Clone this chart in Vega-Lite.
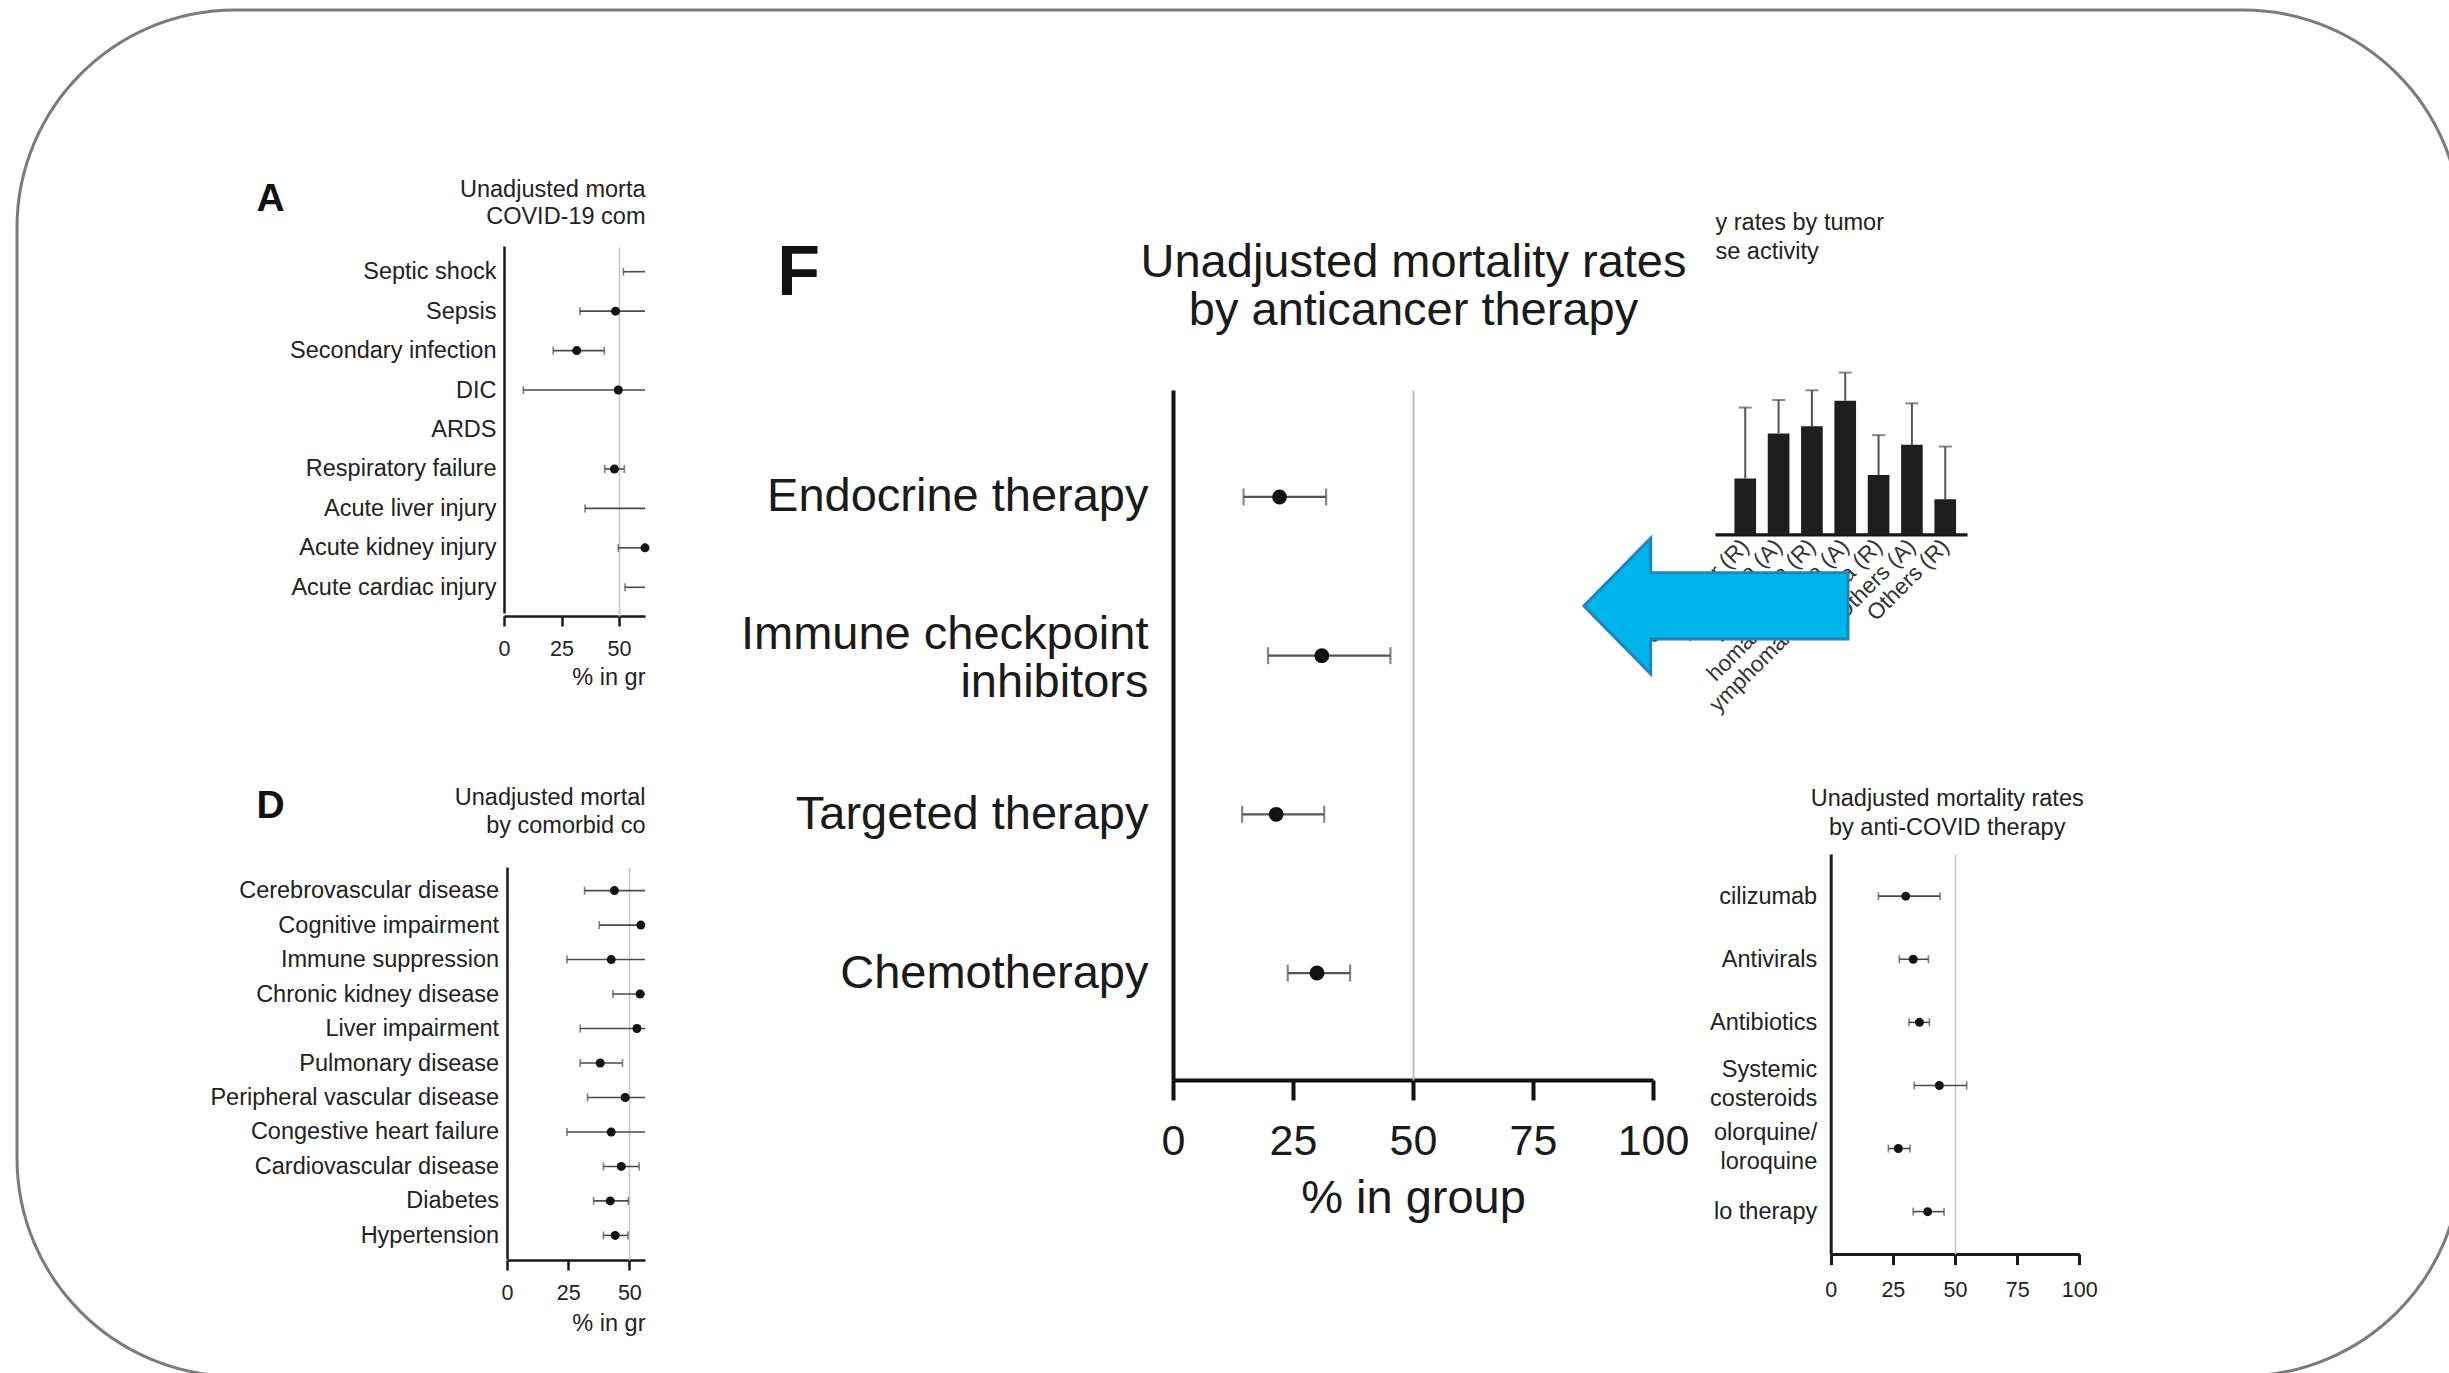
{
  "$schema": "https://vega.github.io/schema/vega-lite/v6.json",
  "width": 2444,
  "height": 1366,
  "padding": {"left": 17, "top": 10, "right": 0, "bottom": 0},
  "autosize": {"type": "none"},
  "background": "white",
  "config": {
    "font": "Liberation Sans",
    "view": {"fill": "white", "stroke": "#7b7b7b", "strokeWidth": 3, "cornerRadius": 218}
  },
  "datasets": {
    "complications": [
      {"complication": "Septic shock", "rate": 68.0, "lo": 51.9, "hi": 84.0},
      {"complication": "Sepsis", "rate": 48.5, "lo": 33.0, "hi": 64.0},
      {"complication": "Secondary infection", "rate": 31.6, "lo": 21.4, "hi": 43.6},
      {"complication": "DIC", "rate": 49.7, "lo": 8.4, "hi": 91.0},
      {"complication": "ARDS", "rate": 72.0, "lo": 63.0, "hi": 81.0},
      {"complication": "Respiratory failure", "rate": 48.0, "lo": 43.8, "hi": 52.3},
      {"complication": "Acute liver injury", "rate": 64.0, "lo": 35.2, "hi": 90.0},
      {"complication": "Acute kidney injury", "rate": 61.8, "lo": 49.7, "hi": 74.0},
      {"complication": "Acute cardiac injury", "rate": 66.0, "lo": 52.6, "hi": 80.0}
    ],
    "comorbidities": [
      {"condition": "Cerebrovascular disease", "rate": 43.9, "lo": 31.7, "hi": 58.5},
      {"condition": "Cognitive impairment", "rate": 54.7, "lo": 37.7, "hi": 72.0},
      {"condition": "Immune suppression", "rate": 42.6, "lo": 24.5, "hi": 62.0},
      {"condition": "Chronic kidney disease", "rate": 54.4, "lo": 43.3, "hi": 66.0},
      {"condition": "Liver impairment", "rate": 53.1, "lo": 29.9, "hi": 76.0},
      {"condition": "Pulmonary disease", "rate": 38.1, "lo": 29.9, "hi": 47.2},
      {"condition": "Peripheral vascular disease", "rate": 48.3, "lo": 32.9, "hi": 64.0},
      {"condition": "Congestive heart failure", "rate": 42.6, "lo": 24.5, "hi": 61.0},
      {"condition": "Cardiovascular disease", "rate": 46.7, "lo": 39.4, "hi": 54.0},
      {"condition": "Diabetes", "rate": 42.2, "lo": 35.4, "hi": 49.6},
      {"condition": "Hypertension", "rate": 44.2, "lo": 39.4, "hi": 49.4}
    ],
    "anticancer": [
      {"therapy": "Endocrine therapy", "rate": 22.2, "lo": 14.7, "hi": 31.9},
      {"therapy": "Immune checkpoint|inhibitors", "rate": 31.0, "lo": 19.8, "hi": 45.3},
      {"therapy": "Targeted therapy", "rate": 21.5, "lo": 14.4, "hi": 31.5},
      {"therapy": "Chemotherapy", "rate": 30.0, "lo": 23.9, "hi": 36.9}
    ],
    "anticovid": [
      {"treatment": "cilizumab", "rate": 30.2, "lo": 19.2, "hi": 44.0},
      {"treatment": "Antivirals", "rate": 33.2, "lo": 27.6, "hi": 39.3},
      {"treatment": "Antibiotics", "rate": 35.7, "lo": 31.5, "hi": 39.7},
      {"treatment": "Systemic|costeroids", "rate": 43.7, "lo": 33.6, "hi": 54.7},
      {"treatment": "olorquine/|loroquine", "rate": 27.2, "lo": 23.2, "hi": 31.9},
      {"treatment": "lo therapy", "rate": 39.0, "lo": 33.2, "hi": 45.6}
    ],
    "tumor": [
      {"group": "Solid tumor (R)", "rate": 31.8, "hi": 72.2},
      {"group": "Leukemia (A)", "rate": 57.4, "hi": 76.5},
      {"group": "Leukemia (R)", "rate": 61.6, "hi": 82.0},
      {"group": "Lymphoma/myeloma (A)", "rate": 76.1, "hi": 92.1},
      {"group": "Lymphoma/myeloma (R)", "rate": 33.8, "hi": 56.5},
      {"group": "Others (A)", "rate": 51.0, "hi": 74.6},
      {"group": "Others (R)", "rate": 20.0, "hi": 50.0}
    ]
  },
  "layer": [
    {
      "data": {"name": "complications"},
      "layer": [
        {
          "mark": {"type": "rule", "color": "#4a4a4a", "strokeWidth": 1.6},
          "encoding": {
            "y": {"field": "complication", "type": "nominal",
              "scale": {"type": "point", "domain": ["Septic shock", "Sepsis", "Secondary infection", "DIC", "ARDS", "Respiratory failure", "Acute liver injury", "Acute kidney injury", "Acute cardiac injury"], "range": [236, 603], "padding": 0.652},
              "axis": {"orient": "left", "offset": -487, "ticks": false, "tickSize": 0, "domainColor": "#1a1a1a", "domainWidth": 2.5, "labelFontSize": 23.5, "labelColor": "#222222", "labelPadding": 8, "labelLimit": 1000,
                "title": "A", "titleAngle": 0, "titleX": -234, "titleY": 188, "titleAlign": "center", "titleBaseline": "middle", "titleFontSize": 39, "titleFontWeight": "bold", "titleColor": "#111111", "zindex": 0}},
            "x": {"field": "lo", "type": "quantitative",
              "scale": {"domain": [0, 61.3], "range": [487, 628], "clamp": true, "nice": false, "zero": false},
              "axis": {"orient": "bottom", "offset": -760, "values": [0, 25, 50], "tickSize": 10, "tickWidth": 2.5, "tickColor": "#1a1a1a", "domainColor": "#1a1a1a", "domainWidth": 2.5, "labelFontSize": 21.5, "labelColor": "#222222", "labelPadding": 12, "labelFlush": false, "labelOverlap": false, "grid": false,
                "title": "% in gr", "titleAnchor": "end", "titleAlign": "right", "titleY": 61, "titleBaseline": "middle", "titleFontSize": 23.5, "titleFontWeight": "normal", "titleColor": "#222222", "zindex": 0}},
            "x2": {"field": "hi"}
          }
        },
        {
          "transform": [{"filter": "datum.lo <= 61.3"}],
          "mark": {"type": "tick", "color": "#4a4a4a", "thickness": 1.6, "size": 8},
          "encoding": {
            "y": {"field": "complication", "type": "nominal", "scale": {"type": "point", "domain": ["Septic shock", "Sepsis", "Secondary infection", "DIC", "ARDS", "Respiratory failure", "Acute liver injury", "Acute kidney injury", "Acute cardiac injury"], "range": [236, 603], "padding": 0.652}, "axis": null},
            "x": {"field": "lo", "type": "quantitative", "scale": {"domain": [0, 61.3], "range": [487, 628], "clamp": true, "nice": false, "zero": false},
              "axis": {"orient": "top", "offset": -606, "values": [50], "domain": false, "labels": false, "ticks": true, "tickSize": 369, "tickWidth": 1.6, "tickColor": "#c9c9c9", "grid": false,
                "title": ["Unadjusted morta", "COVID-19 com"], "titleAnchor": "end", "titleAlign": "right", "titleY": -426.7, "titleBaseline": "middle", "titleLineHeight": 27.5, "titleFontSize": 23.5, "titleFontWeight": "normal", "titleColor": "#222222", "zindex": 0}}
          }
        },
        {
          "transform": [{"filter": "datum.hi <= 61.3"}],
          "mark": {"type": "tick", "color": "#4a4a4a", "thickness": 1.6, "size": 8},
          "encoding": {
            "y": {"field": "complication", "type": "nominal", "scale": {"type": "point", "domain": ["Septic shock", "Sepsis", "Secondary infection", "DIC", "ARDS", "Respiratory failure", "Acute liver injury", "Acute kidney injury", "Acute cardiac injury"], "range": [236, 603], "padding": 0.652}, "axis": null},
            "x": {"field": "hi", "type": "quantitative", "scale": {"domain": [0, 61.3], "range": [487, 628], "clamp": true, "nice": false, "zero": false}, "axis": null}
          }
        },
        {
          "transform": [{"filter": "datum.rate <= 62.2"}],
          "mark": {"type": "circle", "color": "#141414", "opacity": 1, "size": 81},
          "encoding": {
            "y": {"field": "complication", "type": "nominal", "scale": {"type": "point", "domain": ["Septic shock", "Sepsis", "Secondary infection", "DIC", "ARDS", "Respiratory failure", "Acute liver injury", "Acute kidney injury", "Acute cardiac injury"], "range": [236, 603], "padding": 0.652}, "axis": null},
            "x": {"field": "rate", "type": "quantitative", "scale": {"domain": [0, 61.3], "range": [487, 628], "clamp": true, "nice": false, "zero": false}, "axis": null}
          }
        }
      ],
      "resolve": {"axis": {"x": "independent", "y": "independent"}}
    },
    {
      "data": {"name": "comorbidities"},
      "layer": [
        {
          "mark": {"type": "rule", "color": "#4a4a4a", "strokeWidth": 1.6},
          "encoding": {
            "y": {"field": "condition", "type": "nominal",
              "scale": {"type": "point", "domain": ["Cerebrovascular disease", "Cognitive impairment", "Immune suppression", "Chronic kidney disease", "Liver impairment", "Pulmonary disease", "Peripheral vascular disease", "Congestive heart failure", "Cardiovascular disease", "Diabetes", "Hypertension"], "range": [857, 1249], "padding": 0.685},
              "axis": {"orient": "left", "offset": -490, "ticks": false, "tickSize": 0, "domainColor": "#1a1a1a", "domainWidth": 2.5, "labelFontSize": 23.5, "labelColor": "#222222", "labelPadding": 8.4, "labelLimit": 1000,
                "title": "D", "titleAngle": 0, "titleX": -237, "titleY": 795, "titleAlign": "center", "titleBaseline": "middle", "titleFontSize": 39, "titleFontWeight": "bold", "titleColor": "#111111", "zindex": 0}},
            "x": {"field": "lo", "type": "quantitative",
              "scale": {"domain": [0, 56.4], "range": [490, 628], "clamp": true, "nice": false, "zero": false},
              "axis": {"orient": "bottom", "offset": -116, "values": [0, 25, 50], "tickSize": 10, "tickWidth": 2.5, "tickColor": "#1a1a1a", "domainColor": "#1a1a1a", "domainWidth": 2.5, "labelFontSize": 21.5, "labelColor": "#222222", "labelPadding": 12, "labelFlush": false, "labelOverlap": false, "grid": false,
                "title": "% in gr", "titleAnchor": "end", "titleAlign": "right", "titleY": 63, "titleBaseline": "middle", "titleFontSize": 23.5, "titleFontWeight": "normal", "titleColor": "#222222", "zindex": 0}},
            "x2": {"field": "hi"}
          }
        },
        {
          "transform": [{"filter": "datum.lo <= 56.4"}],
          "mark": {"type": "tick", "color": "#4a4a4a", "thickness": 1.6, "size": 8},
          "encoding": {
            "y": {"field": "condition", "type": "nominal", "scale": {"type": "point", "domain": ["Cerebrovascular disease", "Cognitive impairment", "Immune suppression", "Chronic kidney disease", "Liver impairment", "Pulmonary disease", "Peripheral vascular disease", "Congestive heart failure", "Cardiovascular disease", "Diabetes", "Hypertension"], "range": [857, 1249], "padding": 0.685}, "axis": null},
            "x": {"field": "lo", "type": "quantitative", "scale": {"domain": [0, 56.4], "range": [490, 628], "clamp": true, "nice": false, "zero": false},
              "axis": {"orient": "top", "offset": -1250, "values": [50], "domain": false, "labels": false, "ticks": true, "tickSize": 393, "tickWidth": 1.6, "tickColor": "#c9c9c9", "grid": false,
                "title": ["Unadjusted mortal", "by comorbid co"], "titleAnchor": "end", "titleAlign": "right", "titleY": -462.3, "titleBaseline": "middle", "titleLineHeight": 27.8, "titleFontSize": 23.5, "titleFontWeight": "normal", "titleColor": "#222222", "zindex": 0}}
          }
        },
        {
          "transform": [{"filter": "datum.hi <= 56.4"}],
          "mark": {"type": "tick", "color": "#4a4a4a", "thickness": 1.6, "size": 8},
          "encoding": {
            "y": {"field": "condition", "type": "nominal", "scale": {"type": "point", "domain": ["Cerebrovascular disease", "Cognitive impairment", "Immune suppression", "Chronic kidney disease", "Liver impairment", "Pulmonary disease", "Peripheral vascular disease", "Congestive heart failure", "Cardiovascular disease", "Diabetes", "Hypertension"], "range": [857, 1249], "padding": 0.685}, "axis": null},
            "x": {"field": "hi", "type": "quantitative", "scale": {"domain": [0, 56.4], "range": [490, 628], "clamp": true, "nice": false, "zero": false}, "axis": null}
          }
        },
        {
          "transform": [{"filter": "datum.rate <= 56.4"}],
          "mark": {"type": "circle", "color": "#141414", "opacity": 1, "size": 81},
          "encoding": {
            "y": {"field": "condition", "type": "nominal", "scale": {"type": "point", "domain": ["Cerebrovascular disease", "Cognitive impairment", "Immune suppression", "Chronic kidney disease", "Liver impairment", "Pulmonary disease", "Peripheral vascular disease", "Congestive heart failure", "Cardiovascular disease", "Diabetes", "Hypertension"], "range": [857, 1249], "padding": 0.685}, "axis": null},
            "x": {"field": "rate", "type": "quantitative", "scale": {"domain": [0, 56.4], "range": [490, 628], "clamp": true, "nice": false, "zero": false}, "axis": null}
          }
        }
      ],
      "resolve": {"axis": {"x": "independent", "y": "independent"}}
    },
    {
      "data": {"name": "tumor"},
      "layer": [
        {
          "mark": {"type": "bar", "color": "#1e1e1e"},
          "encoding": {
            "x": {"field": "group", "type": "nominal", "sort": null,
              "scale": {"type": "band", "domain": ["Solid tumor (R)", "Leukemia (A)", "Leukemia (R)", "Lymphoma/myeloma (A)", "Lymphoma/myeloma (R)", "Others (A)", "Others (R)"], "range": [1698, 1950], "paddingInner": 0.35, "paddingOuter": 0.455, "align": 0.64},
              "axis": {"orient": "bottom", "offset": -841.6, "ticks": false, "tickSize": 0, "domainColor": "#151515", "domainWidth": 3.3, "labelAngle": -45, "labelAlign": "right", "labelBaseline": "middle", "labelFontSize": 22.5, "labelColor": "#333333", "labelPadding": 8, "labelLimit": 1000, "labelOverlap": false,
                "labelExpr": "datum.label === 'Lymphoma/myeloma (A)' ? 'homa/myeloma (A)' : datum.label === 'Lymphoma/myeloma (R)' ? 'ymphoma/myeloma (R)' : datum.label",
                "title": null, "zindex": 0}},
            "y": {"field": "rate", "type": "quantitative", "scale": {"domain": [0, 100], "range": [524.4, 348.7], "nice": false, "zero": true}, "axis": null}
          }
        },
        {
          "mark": {"type": "rule", "color": "#555555", "strokeWidth": 2},
          "encoding": {
            "x": {"field": "group", "type": "nominal", "sort": null, "scale": {"type": "band", "domain": ["Solid tumor (R)", "Leukemia (A)", "Leukemia (R)", "Lymphoma/myeloma (A)", "Lymphoma/myeloma (R)", "Others (A)", "Others (R)"], "range": [1698, 1950], "paddingInner": 0.35, "paddingOuter": 0.455, "align": 0.64}, "axis": null},
            "y": {"field": "rate", "type": "quantitative", "scale": {"domain": [0, 100], "range": [524.4, 348.7], "nice": false, "zero": true}, "axis": null},
            "y2": {"field": "hi"}
          }
        },
        {
          "mark": {"type": "tick", "color": "#555555", "thickness": 2, "size": 13},
          "encoding": {
            "x": {"field": "group", "type": "nominal", "sort": null, "scale": {"type": "band", "domain": ["Solid tumor (R)", "Leukemia (A)", "Leukemia (R)", "Lymphoma/myeloma (A)", "Lymphoma/myeloma (R)", "Others (A)", "Others (R)"], "range": [1698, 1950], "paddingInner": 0.35, "paddingOuter": 0.455, "align": 0.64},
              "axis": {"orient": "top", "offset": -348.7, "ticks": false, "labels": false, "domain": false, "grid": false,
                "title": ["y rates by tumor", "se activity"], "titleAnchor": "start", "titleAlign": "left", "titleY": -136, "titleBaseline": "middle", "titleLineHeight": 28.6, "titleFontSize": 23.5, "titleFontWeight": "normal", "titleColor": "#222222", "zindex": 0}},
            "y": {"field": "hi", "type": "quantitative", "scale": {"domain": [0, 100], "range": [524.4, 348.7], "nice": false, "zero": true}, "axis": null}
          }
        },
        {
          "data": {"values": [{"annotation": "arrow"}]},
          "mark": {"type": "point", "shape": "M-1,0L-0.495,-0.513L-0.495,-0.252L1,-0.252L1,0.25L-0.495,0.25L-0.495,0.515Z", "size": 69696, "filled": true, "fill": "#00b4ec", "stroke": "#1d87bd", "strokeWidth": 3, "opacity": 1},
          "encoding": {
            "x": {"datum": "Solid tumor (R)", "bandPosition": -0.849, "scale": {"type": "band", "domain": ["Solid tumor (R)", "Leukemia (A)", "Leukemia (R)", "Lymphoma/myeloma (A)", "Lymphoma/myeloma (R)", "Others (A)", "Others (R)"], "range": [1698, 1950], "paddingInner": 0.35, "paddingOuter": 0.455, "align": 0.64}, "axis": null},
            "y": {"datum": -40.7, "type": "quantitative", "scale": {"domain": [0, 100], "range": [524.4, 348.7], "nice": false, "zero": true}, "axis": null}
          }
        }
      ],
      "resolve": {"axis": {"x": "independent", "y": "independent"}}
    },
    {
      "data": {"name": "anticovid"},
      "layer": [
        {
          "mark": {"type": "rule", "color": "#4a4a4a", "strokeWidth": 1.6},
          "encoding": {
            "y": {"field": "treatment", "type": "nominal",
              "scale": {"type": "point", "domain": ["cilizumab", "Antivirals", "Antibiotics", "Systemic|costeroids", "olorquine/|loroquine", "lo therapy"], "range": [843.9, 1243.9], "padding": 0.67},
              "axis": {"orient": "left", "offset": -1813.7, "ticks": false, "tickSize": 0, "domainColor": "#1a1a1a", "domainWidth": 3, "labelFontSize": 23.5, "labelColor": "#222222", "labelPadding": 14, "labelLimit": 1000, "labelExpr": "split(datum.label, '|')", "labelLineHeight": 28.6,
                "labelOffset": {"condition": {"test": "indexof(datum.value, '|') >= 0", "value": -16}, "value": 0},
                "title": null, "zindex": 0}},
            "x": {"field": "lo", "type": "quantitative",
              "scale": {"domain": [0, 100], "range": [1813.7, 2062.3], "nice": false, "zero": false},
              "axis": {"orient": "bottom", "offset": -122.1, "values": [0, 25, 50, 75, 100], "tickSize": 10.7, "tickWidth": 3, "tickColor": "#1a1a1a", "domainColor": "#1a1a1a", "domainWidth": 3, "labelFontSize": 21.5, "labelColor": "#222222", "labelPadding": 15, "labelFlush": false, "labelOverlap": false, "grid": false, "title": null, "zindex": 0}},
            "x2": {"field": "hi"}
          }
        },
        {
          "mark": {"type": "tick", "color": "#4a4a4a", "thickness": 1.6, "size": 8},
          "encoding": {
            "y": {"field": "treatment", "type": "nominal", "scale": {"type": "point", "domain": ["cilizumab", "Antivirals", "Antibiotics", "Systemic|costeroids", "olorquine/|loroquine", "lo therapy"], "range": [843.9, 1243.9], "padding": 0.67}, "axis": null},
            "x": {"field": "lo", "type": "quantitative", "scale": {"domain": [0, 100], "range": [1813.7, 2062.3], "nice": false, "zero": false},
              "axis": {"orient": "top", "offset": -1243.9, "values": [50], "domain": false, "labels": false, "ticks": true, "tickSize": 400, "tickWidth": 1.6, "tickColor": "#c9c9c9", "grid": false,
                "title": ["Unadjusted mortality rates", "by anti-COVID therapy"], "titleX": 1929.7, "titleAlign": "center", "titleY": -455.3, "titleBaseline": "middle", "titleLineHeight": 28.5, "titleFontSize": 23.5, "titleFontWeight": "normal", "titleColor": "#222222", "zindex": 0}}
          }
        },
        {
          "mark": {"type": "tick", "color": "#4a4a4a", "thickness": 1.6, "size": 8},
          "encoding": {
            "y": {"field": "treatment", "type": "nominal", "scale": {"type": "point", "domain": ["cilizumab", "Antivirals", "Antibiotics", "Systemic|costeroids", "olorquine/|loroquine", "lo therapy"], "range": [843.9, 1243.9], "padding": 0.67}, "axis": null},
            "x": {"field": "hi", "type": "quantitative", "scale": {"domain": [0, 100], "range": [1813.7, 2062.3], "nice": false, "zero": false}, "axis": null}
          }
        },
        {
          "mark": {"type": "circle", "color": "#141414", "opacity": 1, "size": 81},
          "encoding": {
            "y": {"field": "treatment", "type": "nominal", "scale": {"type": "point", "domain": ["cilizumab", "Antivirals", "Antibiotics", "Systemic|costeroids", "olorquine/|loroquine", "lo therapy"], "range": [843.9, 1243.9], "padding": 0.67}, "axis": null},
            "x": {"field": "rate", "type": "quantitative", "scale": {"domain": [0, 100], "range": [1813.7, 2062.3], "nice": false, "zero": false}, "axis": null}
          }
        }
      ],
      "resolve": {"axis": {"x": "independent", "y": "independent"}}
    },
    {
      "data": {"name": "anticancer"},
      "layer": [
        {
          "mark": {"type": "rule", "color": "#555555", "strokeWidth": 2.2},
          "encoding": {
            "y": {"field": "therapy", "type": "nominal",
              "scale": {"type": "point", "domain": ["Endocrine therapy", "Immune checkpoint|inhibitors", "Targeted therapy", "Chemotherapy"], "range": [380, 1070], "padding": 0.674},
              "axis": {"orient": "left", "offset": -1156, "ticks": false, "tickSize": 0, "domainColor": "#111111", "domainWidth": 4, "labelFontSize": 47, "labelColor": "#1a1a1a", "labelPadding": 25, "labelLimit": 2000, "labelExpr": "split(datum.label, '|')", "labelLineHeight": 48,
                "labelOffset": {"condition": {"test": "indexof(datum.value, '|') >= 0", "value": -21}, "value": 0},
                "title": "F", "titleAngle": 0, "titleX": -375, "titleY": 263, "titleAlign": "center", "titleBaseline": "middle", "titleFontSize": 70, "titleFontWeight": "bold", "titleColor": "#111111", "zindex": 0}},
            "x": {"field": "lo", "type": "quantitative",
              "scale": {"domain": [0, 100], "range": [1156, 1636], "nice": false, "zero": false},
              "axis": {"orient": "bottom", "offset": -296, "values": [0, 25, 50, 75, 100], "tickSize": 20, "tickWidth": 4, "tickColor": "#111111", "domainColor": "#111111", "domainWidth": 4, "labelFontSize": 43, "labelColor": "#1a1a1a", "labelPadding": 20, "labelFlush": false, "labelOverlap": false, "grid": false,
                "title": "% in group", "titleY": 118.3, "titleBaseline": "middle", "titleFontSize": 47, "titleFontWeight": "normal", "titleColor": "#1a1a1a", "zindex": 0}},
            "x2": {"field": "hi"}
          }
        },
        {
          "mark": {"type": "tick", "color": "#555555", "thickness": 2.2, "size": 17},
          "encoding": {
            "y": {"field": "therapy", "type": "nominal", "scale": {"type": "point", "domain": ["Endocrine therapy", "Immune checkpoint|inhibitors", "Targeted therapy", "Chemotherapy"], "range": [380, 1070], "padding": 0.674}, "axis": null},
            "x": {"field": "lo", "type": "quantitative", "scale": {"domain": [0, 100], "range": [1156, 1636], "nice": false, "zero": false},
              "axis": {"orient": "top", "offset": -1070, "values": [50], "domain": false, "labels": false, "ticks": true, "tickSize": 690, "tickWidth": 1.8, "tickColor": "#b8b8b8", "grid": false,
                "title": ["Unadjusted mortality rates", "by anticancer therapy"], "titleY": -818, "titleBaseline": "middle", "titleLineHeight": 48, "titleFontSize": 47, "titleFontWeight": "normal", "titleColor": "#1a1a1a", "zindex": 0}}
          }
        },
        {
          "mark": {"type": "tick", "color": "#555555", "thickness": 2.2, "size": 17},
          "encoding": {
            "y": {"field": "therapy", "type": "nominal", "scale": {"type": "point", "domain": ["Endocrine therapy", "Immune checkpoint|inhibitors", "Targeted therapy", "Chemotherapy"], "range": [380, 1070], "padding": 0.674}, "axis": null},
            "x": {"field": "hi", "type": "quantitative", "scale": {"domain": [0, 100], "range": [1156, 1636], "nice": false, "zero": false}, "axis": null}
          }
        },
        {
          "mark": {"type": "circle", "color": "#111111", "opacity": 1, "size": 220},
          "encoding": {
            "y": {"field": "therapy", "type": "nominal", "scale": {"type": "point", "domain": ["Endocrine therapy", "Immune checkpoint|inhibitors", "Targeted therapy", "Chemotherapy"], "range": [380, 1070], "padding": 0.674}, "axis": null},
            "x": {"field": "rate", "type": "quantitative", "scale": {"domain": [0, 100], "range": [1156, 1636], "nice": false, "zero": false}, "axis": null}
          }
        }
      ],
      "resolve": {"axis": {"x": "independent", "y": "independent"}}
    }
  ],
  "resolve": {
    "scale": {"x": "independent", "y": "independent"},
    "axis": {"x": "independent", "y": "independent"}
  }
}
